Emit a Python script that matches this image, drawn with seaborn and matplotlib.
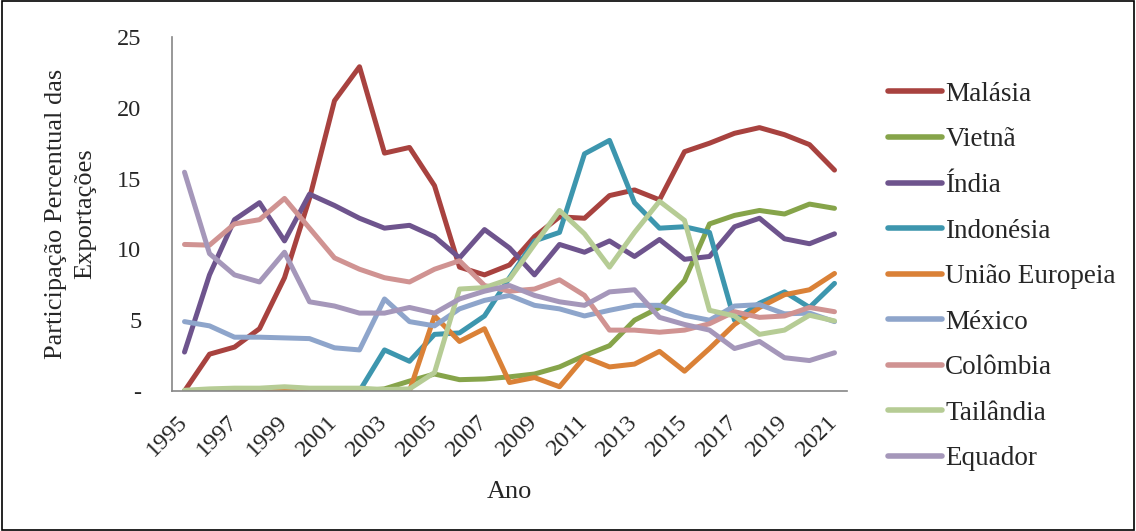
import numpy as np
import pandas as pd
import matplotlib
matplotlib.use("Agg")
import matplotlib.pyplot as plt
import seaborn as sns
from matplotlib.patches import Rectangle

years = list(range(1995, 2022))
malasia = [0.0, 2.6, 3.1, 4.4, 8.0, 13.6, 20.5, 22.9, 16.8, 17.2, 14.5, 8.75, 8.2,
           8.9, 10.9, 12.3, 12.2, 13.8, 14.2, 13.5, 16.9, 17.5, 18.2, 18.6, 18.1, 17.4, 15.6]
vietna = [0.0, 0.0, 0.0, 0.0, 0.0, 0.0, 0.0, 0.0, 0.15, 0.7, 1.2, 0.8, 0.85,
          1.0, 1.2, 1.7, 2.5, 3.2, 5.0, 5.9, 7.8, 11.8, 12.4, 12.75, 12.5, 13.2, 12.9]
india = [2.75, 8.2, 12.1, 13.3, 10.6, 13.9, 13.1, 12.2, 11.5, 11.7, 10.9, 9.4, 11.4,
         10.1, 8.2, 10.35, 9.8, 10.6, 9.5, 10.7, 9.3, 9.5, 11.6, 12.2, 10.75, 10.4, 11.1]
indonesia = [0.0, 0.0, 0.0, 0.0, 0.0, 0.0, 0.0, 0.0, 2.9, 2.1, 4.0, 4.1, 5.3,
             8.0, 10.6, 11.2, 16.75, 17.7, 13.3, 11.5, 11.6, 11.2, 5.0, 6.2, 7.0, 5.9, 7.6]
uniao_europeia = [0.0, 0.0, 0.0, 0.0, 0.0, 0.0, 0.0, 0.0, 0.0, 0.0, 5.3, 3.5, 4.4,
                  0.6, 0.95, 0.3, 2.4, 1.7, 1.9, 2.8, 1.4, 3.0, 4.7, 5.9, 6.8, 7.15, 8.3]
mexico = [4.9, 4.6, 3.8, 3.8, 3.75, 3.7, 3.05, 2.9, 6.5, 4.9, 4.6, 5.8, 6.4,
          6.75, 6.05, 5.8, 5.3, 5.7, 6.05, 6.05, 5.35, 5.0, 6.0, 6.1, 5.45, 5.5, 4.9]
colombia = [10.35, 10.3, 11.8, 12.1, 13.6, 11.5, 9.4, 8.6, 8.0, 7.7, 8.6, 9.2, 7.45,
            7.05, 7.2, 7.85, 6.75, 4.3, 4.3, 4.15, 4.3, 4.75, 5.6, 5.2, 5.3, 5.9, 5.6]
tailandia = [0.05, 0.15, 0.2, 0.2, 0.3, 0.2, 0.2, 0.2, 0.1, 0.15, 1.3, 7.2, 7.3,
             7.9, 10.35, 12.75, 11.1, 8.75, 11.2, 13.4, 12.05, 5.7, 5.3, 4.0, 4.3, 5.35, 4.95]
equador = [15.45, 9.7, 8.2, 7.7, 9.8, 6.3, 6.0, 5.5, 5.5, 5.9, 5.5, 6.5, 7.05,
           7.45, 6.75, 6.3, 6.05, 7.0, 7.15, 5.2, 4.7, 4.3, 3.0, 3.5, 2.35, 2.15, 2.7]

series_names = ["Malásia", "Vietnã", "Índia", "Indonésia", "União Europeia",
                "México", "Colômbia", "Tailândia", "Equador"]
series_values = [malasia, vietna, india, indonesia, uniao_europeia,
                 mexico, colombia, tailandia, equador]
colors = ["#A8423F", "#86A44A", "#6E548D", "#3D96AE", "#DA8137",
          "#8EA5CB", "#D09392", "#B6CC95", "#A597BA"]
y_ticks = [0, 5, 10, 15, 20, 25]
y_tick_labels = ["-", "5", "10", "15", "20", "25"]

rows = []
for name, vals in zip(series_names, series_values):
    for i, v in enumerate(vals):
        rows.append({"idx": i, "year": years[i], "pais": name, "valor": v})
df = pd.DataFrame(rows)

sns.set_style("white")
plt.rcParams["font.family"] = ["Liberation Serif", "DejaVu Serif"]

fig = plt.figure(figsize=(11.36, 5.31), dpi=100)
ax = fig.add_axes([172/1136, 1 - 391/531, (847-172)/1136, (391-37)/531])

sns.lineplot(data=df, x="idx", y="valor", hue="pais", hue_order=series_names,
             palette=colors, linewidth=3.6, ax=ax, legend=True)
for ln in ax.lines:
    ln.set_solid_capstyle("round")
    ln.set_solid_joinstyle("round")

ax.set_xlim(-0.5, len(years) - 0.5)
ax.set_ylim(0, 25)
ax.set_yticks(y_ticks)
ax.set_yticklabels(y_tick_labels, fontsize=17.5)
ax.set_xticks(list(range(0, len(years), 2)))
ax.set_xticklabels([str(years[i]) for i in range(0, len(years), 2)],
                   rotation=45, ha="right", va="center", rotation_mode="anchor", fontsize=17.5)
ax.set_xticks(np.arange(-0.5, len(years), 1.0), minor=True)
ax.tick_params(axis="x", which="major", length=0, pad=20)
ax.tick_params(axis="x", which="minor", length=7, color="#868686", width=1.2)
ax.tick_params(axis="y", which="major", length=7, color="#868686", width=1.2, pad=15)

for s in ["top", "right"]:
    ax.spines[s].set_visible(False)
for s in ["left", "bottom"]:
    ax.spines[s].set_color("#868686")
    ax.spines[s].set_linewidth(1.2)

ax.set_xlabel("Ano", fontsize=19, labelpad=15)
ax.set_ylabel("Participação Percentual das\nExportações", fontsize=19,
              linespacing=1.4, labelpad=15)

handles, labels = ax.get_legend_handles_labels()
ax.legend_.remove()
for h in handles:
    h.set_linewidth(4)
    h.set_solid_capstyle("round")
fig.legend(handles, labels, loc="upper left", bbox_to_anchor=(877/1136, 1 - 71/531),
           frameon=False, fontsize=19.5, handlelength=2.0, handletextpad=0.12,
           labelspacing=0.76, borderaxespad=0)

fig.patches.append(Rectangle((0.0015, 0.002), 0.997, 0.996, transform=fig.transFigure,
                             fill=False, edgecolor="black", linewidth=1.2))

fig.savefig("out.png", dpi=100)
